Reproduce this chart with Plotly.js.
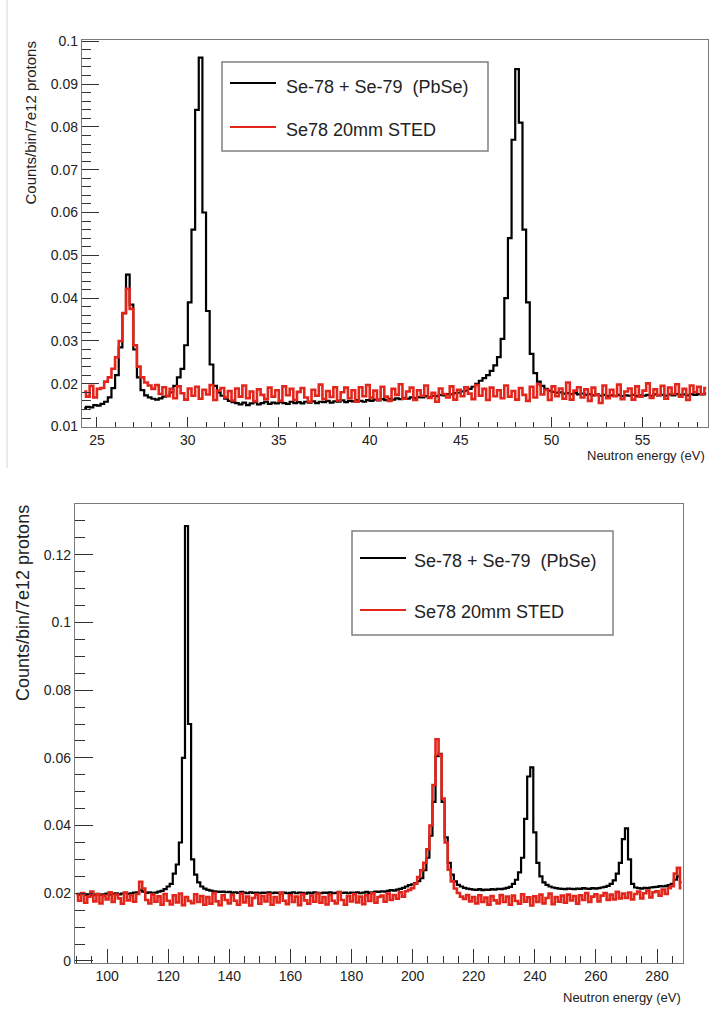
<!DOCTYPE html>
<html>
<head>
<meta charset="utf-8">
<script src="https://cdn.plot.ly/plotly-3.0.1.min.js"></script>
<style>
  html, body { margin: 0; padding: 0; background: #fff; }
  #chart { width: 722px; height: 1020px; }
</style>
</head>
<body>
<div id="chart"></div>
<script>
// histogram contents, in units of 1e-4 counts/bin/7e12 protons
// upper plot: bin centres from 24.3 eV, 0.2 eV wide
const topStart = 24.3, topBin = 0.2;
const topPbSe = [
  143,146,145,150,149,153,158,168,190,220,
  285,365,455,385,280,215,185,173,168,165,
  163,166,170,172,180,195,215,235,290,390,
  560,840,962,600,370,245,195,180,172,165,
  160,157,155,152,156,150,154,157,152,155,
  158,153,156,154,157,155,153,158,155,157,
  154,158,156,159,155,158,157,160,156,159,
  158,161,157,160,159,162,160,158,162,160,
  163,161,164,162,165,163,166,164,167,165,
  168,166,169,168,171,169,172,171,174,173,
  176,175,178,179,182,184,188,193,200,207,
  213,220,230,243,262,305,400,540,770,935,
  810,560,390,270,225,205,195,188,184,181,
  179,180,177,178,176,178,175,177,174,176,
  173,175,172,174,171,173,172,174,171,173,
  172,174,171,173,172,174,172,175,173,174,
  172,175,173,176,174,175,173,176,174,176,
  175,177
];
const topSted = [
  182,170,195,168,188,190,205,215,235,262,
  300,365,422,375,290,240,215,203,196,188,
  197,176,192,171,188,166,194,178,163,189,
  172,193,165,186,175,197,162,184,190,168,
  183,161,189,170,196,166,182,159,187,174,
  164,191,170,185,160,194,173,188,162,181,
  190,168,158,186,172,198,164,183,169,192,
  161,180,191,166,185,158,192,171,197,167,
  184,163,193,170,160,188,174,199,165,182,
  191,162,185,172,196,167,179,158,189,176,
  168,194,163,186,171,192,177,164,197,172,
  188,162,191,171,185,166,196,170,183,163,
  190,174,160,193,168,199,175,186,162,194,
  171,189,165,203,163,184,192,168,187,160,
  191,174,155,196,166,186,171,198,164,182,
  189,163,194,170,184,201,167,187,173,195,
  165,191,176,199,170,188,162,196,180,193,
  176,190
];

// lower plot: bin centres from 90 eV, 1 eV wide
const botStart = 90, botBin = 1;
const botPbSe = [
  198,196,199,195,197,194,196,198,195,197,
  199,196,198,200,197,199,201,198,200,202,
  203,210,205,201,203,200,202,205,207,212,
  220,228,258,285,350,600,1285,700,300,255,
  232,220,214,210,208,206,205,204,205,203,
  204,202,203,201,204,202,200,203,201,202,
  200,202,201,203,200,202,201,199,202,200,
  201,203,200,202,201,199,202,200,203,201,
  200,202,201,203,200,201,204,201,202,200,
  202,201,203,200,202,204,201,203,205,204,
  206,205,207,209,208,211,213,216,220,224,
  226,230,236,245,268,305,370,470,605,612,
  470,365,290,255,235,225,220,216,214,212,
  211,210,212,209,211,210,212,211,213,212,
  214,216,219,228,240,262,305,420,545,572,
  380,290,250,232,225,220,217,215,214,213,
  212,214,213,212,214,213,215,214,213,215,
  214,215,217,219,222,228,238,258,290,360,
  392,300,228,217,215,214,216,215,217,218,
  219,221,220,222,224,228,240,250,232
];
const botSted = [
  194,178,201,172,190,205,176,197,170,193,
  182,203,174,196,185,169,202,179,194,175,
  198,234,214,180,170,196,175,191,166,198,
  178,167,194,173,199,165,189,177,171,197,
  174,192,166,189,169,201,176,165,194,180,
  170,195,178,166,199,173,190,164,186,196,
  169,192,176,198,166,189,173,202,178,168,
  194,174,190,165,197,179,169,193,175,199,
  172,189,167,195,178,170,203,180,166,192,
  176,197,173,190,168,194,177,200,172,189,
  193,175,199,180,195,184,203,190,206,210,
  215,228,248,268,290,330,400,520,655,610,
  480,350,270,235,214,201,190,183,195,176,
  189,170,194,174,187,166,192,179,170,195,
  174,190,166,193,177,169,197,175,188,164,
  191,174,196,170,186,199,168,189,175,193,
  172,196,179,192,169,194,180,201,174,190,
  197,176,193,201,180,196,182,204,185,199,
  186,202,182,198,205,185,200,208,188,203,
  206,193,211,198,215,221,258,275,215
];

const seriesNames = ['Se-78 + Se-79\u00a0 (PbSe)', 'Se78 20mm STED'];
const seriesColors = ['#000000', '#e3261c'];
const seriesWidths = [2.2, 2.6];
const yTitle = 'Counts/bin/7e12 protons';
const xTitle = 'Neutron energy (eV)';

const sans = "'Liberation Sans', Arial, sans-serif";
const scale = arr => arr.map(v => v / 1e4);
const W = 722, H = 1020;
const px = x => x / W;
const py = y => 1 - y / H;

function hist(vals, start, bin, i, xa, ya) {
  return {
    type: 'scatter', mode: 'lines',
    x0: start, dx: bin, y: scale(vals),
    name: seriesNames[i], showlegend: false,
    line: { shape: 'hvh', color: seriesColors[i], width: seriesWidths[i] },
    xaxis: xa, yaxis: ya, hoverinfo: 'x+y'
  };
}

const traces = [
  hist(topPbSe, topStart, topBin, 0, 'x', 'y'),
  hist(topSted, topStart, topBin, 1, 'x', 'y'),
  hist(botPbSe, botStart, botBin, 0, 'x2', 'y2'),
  hist(botSted, botStart, botBin, 1, 'x2', 'y2')
];

function axis(o) {
  return Object.assign({
    showgrid: false, zeroline: false,
    showline: true, mirror: true, linecolor: '#7a7a7a', linewidth: 1.2,
    ticks: 'inside', tickcolor: '#333', tickwidth: 1,
    tickfont: { family: sans, size: 14, color: '#222' }
  }, o);
}

// legend boxes drawn as in the ROOT canvas
function legendBox(box, rows, fontSize) {
  const shapes = [{
    type: 'rect', xref: 'paper', yref: 'paper',
    x0: px(box[0]), x1: px(box[1]), y0: py(box[3]), y1: py(box[2]),
    line: { color: '#808080', width: 1.5 }, fillcolor: 'rgba(255,255,255,0)'
  }];
  const notes = [];
  rows.forEach((r, i) => {
    shapes.push({
      type: 'line', xref: 'paper', yref: 'paper',
      x0: px(r.x0), x1: px(r.x1), y0: py(r.ly), y1: py(r.ly),
      line: { color: seriesColors[i], width: 2.2 }
    });
    notes.push({
      xref: 'paper', yref: 'paper', x: px(r.tx), y: py(r.ty),
      xanchor: 'left', yanchor: 'middle', showarrow: false,
      text: seriesNames[i], font: { family: sans, size: fontSize, color: '#222' }
    });
  });
  return { shapes, notes };
}

const legTop = legendBox([222, 488, 62, 151], [
  { x0: 230, x1: 276, ly: 83, tx: 284, ty: 87 },
  { x0: 230, x1: 276, ly: 127, tx: 284, ty: 130 }
], 18);
const legBot = legendBox([352, 613, 531, 635], [
  { x0: 360, x1: 406, ly: 558, tx: 412, ty: 561 },
  { x0: 360, x1: 406, ly: 610, tx: 412, ty: 612 }
], 18);

const layout = {
  width: W, height: H,
  margin: { l: 0, r: 0, t: 0, b: 0 },
  paper_bgcolor: '#fff', plot_bgcolor: '#fff',
  showlegend: false,
  xaxis: axis({
    domain: [px(82), px(708)], range: [24.18, 58.6], anchor: 'y',
    dtick: 5, tick0: 0, ticklen: 10,
    minor: { dtick: 1, ticks: 'inside', ticklen: 5, tickcolor: '#333', showgrid: false }
  }),
  yaxis: axis({
    domain: [py(427), py(40)], range: [0.0099, 0.1003], anchor: 'x',
    dtick: 0.01, tick0: 0, ticklen: 17,
    minor: { dtick: 0.002, ticks: 'inside', ticklen: 9, tickcolor: '#333', showgrid: false }
  }),
  xaxis2: axis({
    domain: [px(75), px(683)], range: [89.5, 288.5], anchor: 'y2',
    dtick: 20, tick0: 0, ticklen: 14,
    minor: { dtick: 5, ticks: 'inside', ticklen: 7, tickcolor: '#333', showgrid: false }
  }),
  yaxis2: axis({
    domain: [py(963), py(504)], range: [-0.0006, 0.135], anchor: 'x2',
    dtick: 0.02, tick0: 0, ticklen: 18,
    minor: { dtick: 0.005, ticks: 'inside', ticklen: 10, tickcolor: '#333', showgrid: false }
  }),
  shapes: [
    { type: 'line', xref: 'paper', yref: 'paper', x0: px(7), x1: px(7), y0: py(468), y1: 1,
      line: { color: '#d6d6d6', width: 1 } }
  ].concat(legTop.shapes, legBot.shapes),
  annotations: [
    { xref: 'paper', yref: 'paper', x: px(707), y: py(456), xanchor: 'right', yanchor: 'middle',
      showarrow: false, text: xTitle, font: { family: sans, size: 13, color: '#222' } },
    { xref: 'paper', yref: 'paper', x: px(683), y: py(997), xanchor: 'right', yanchor: 'middle',
      showarrow: false, text: xTitle, font: { family: sans, size: 13, color: '#222' } },
    { xref: 'paper', yref: 'paper', x: px(30), y: py(40), xanchor: 'center', yanchor: 'top',
      textangle: -90, showarrow: false, text: yTitle, font: { family: sans, size: 15, color: '#222' } },
    { xref: 'paper', yref: 'paper', x: px(23), y: py(503), xanchor: 'center', yanchor: 'top',
      textangle: -90, showarrow: false, text: yTitle, font: { family: sans, size: 18, color: '#222' } }
  ].concat(legTop.notes, legBot.notes)
};

Plotly.newPlot('chart', traces, layout, { displayModeBar: false, staticPlot: true });
</script>
</body>
</html>
